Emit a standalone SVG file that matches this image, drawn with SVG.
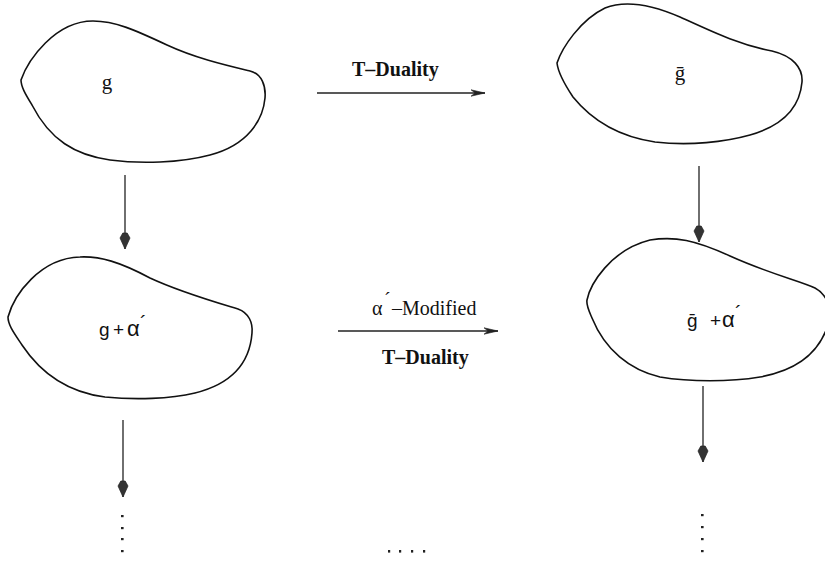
<svg xmlns="http://www.w3.org/2000/svg" width="825" height="561" viewBox="0 0 825 561">
  <style>
    .blob { fill: none; stroke: #111; stroke-width: 1.6; stroke-linejoin: round; }
    .conn { fill: none; stroke: #222; stroke-width: 1.3; }
    .serif { font-family: "Liberation Serif", "DejaVu Serif", serif; fill: #111; }
    .sans { font-family: "Liberation Sans", "DejaVu Sans", sans-serif; fill: #111; }
    .bold { font-weight: bold; }
    .dot { fill: #222; }
  </style>
  <defs>
    <marker id="headH" markerUnits="userSpaceOnUse" markerWidth="20" markerHeight="10" refX="0" refY="0" viewBox="-16 -5 18 10" orient="auto">
      <path d="M0,0 L-14,-3.2 L-10,0 L-14,3.2 Z" fill="#222" stroke="#222" stroke-width="0.6"/>
    </marker>
    <marker id="headV" markerUnits="userSpaceOnUse" markerWidth="20" markerHeight="14" refX="0" refY="0" viewBox="-18 -7 20 14" orient="auto">
      <path d="M0,0 L-11,-5 L-16,-2.2 L-16,2.2 L-11,5 Z" fill="#333" stroke="#222" stroke-width="0.7"/>
    </marker>
  </defs>

  <rect width="825" height="561" fill="#fff"/>

  <!-- metric g -->
  <g id="node-g">
    <path class="blob" d="M21,80 C28,60 55,21 93,21 C115,21 135,30 167,45 C195,58 225,65 250,71 C262,74 266,86 265,98 C263,120 248,145 210,155 C180,163 140,164 110,160 C75,155 50,140 32,105 C26,95 21,87 21,80 Z"/>
    <text class="serif" x="107" y="89" font-size="21" text-anchor="middle">g</text>
  </g>

  <!-- dual metric g-bar -->
  <g id="node-gbar">
    <path class="blob" d="M557,63 C562,48 580,20 605,8 C625,0 650,4 680,17 C715,33 740,45 772,51 C793,56 803,68 802,82 C800,105 785,125 750,135 C725,142 690,146 655,142 C615,136 590,118 573,97 C565,85 558,72 557,63 Z"/>
    <text class="serif" x="680" y="80" font-size="21" text-anchor="middle">ḡ</text>
  </g>

  <!-- corrected metric g + alpha' -->
  <g id="node-g-alpha">
    <path class="blob" d="M8,317 C14,295 40,258 80,257 C100,256 120,262 150,278 C180,292 215,302 238,309 C249,313 253,323 252,333 C250,360 235,383 195,393 C170,399 135,400 105,397 C65,392 40,372 22,345 C14,333 8,325 8,317 Z"/>
    <text class="sans" x="99" y="336" font-size="19">g<tspan x="113">+</tspan><tspan x="127" font-size="22">α</tspan><tspan x="140" y="330" font-size="20">´</tspan></text>
  </g>

  <!-- corrected dual metric g-bar + alpha' -->
  <g id="node-gbar-alpha">
    <path class="blob" d="M587,300 C590,285 610,250 650,240 C675,236 695,240 730,256 C770,274 800,281 815,288 C828,295 832,310 828,325 C820,350 800,370 760,377 C730,382 690,382 660,377 C630,370 605,350 592,318 C589,311 586,305 587,300 Z"/>
    <text class="sans" x="687" y="327" font-size="19">ḡ<tspan x="710">+</tspan><tspan x="722" font-size="22">α</tspan><tspan x="735" y="320" font-size="20">´</tspan></text>
  </g>

  <!-- arrows between metrics -->
  <g id="connectors">
    <line class="conn" x1="317" y1="93" x2="485" y2="93" marker-end="url(#headH)"/>
    <line class="conn" x1="338" y1="331" x2="498" y2="331" marker-end="url(#headH)"/>
    <line class="conn" x1="125" y1="175" x2="125" y2="249" marker-end="url(#headV)"/>
    <line class="conn" x1="699" y1="166" x2="699" y2="242" marker-end="url(#headV)"/>
    <line class="conn" x1="123" y1="420" x2="123" y2="497" marker-end="url(#headV)"/>
    <line class="conn" x1="703" y1="386" x2="703" y2="462" marker-end="url(#headV)"/>
  </g>

  <!-- arrow labels -->
  <g id="labels">
    <text class="serif bold" x="352" y="76" font-size="20">T–Duality</text>
    <text class="serif" x="372" y="315" font-size="20">α<tspan x="384" y="307">´</tspan><tspan x="392" y="315">–Modified</tspan></text>
    <text class="serif bold" x="382" y="364" font-size="20">T–Duality</text>
  </g>

  <!-- continuation dots -->
  <g id="ellipses">
    <rect class="dot" x="121" y="515" width="2.6" height="2.2"/>
    <rect class="dot" x="121" y="527" width="2.6" height="2.2"/>
    <rect class="dot" x="121" y="538" width="2.6" height="2.2"/>
    <rect class="dot" x="121" y="550" width="2.6" height="2.2"/>
    <rect class="dot" x="701" y="514" width="2.6" height="2.2"/>
    <rect class="dot" x="701" y="526" width="2.6" height="2.2"/>
    <rect class="dot" x="701" y="538" width="2.6" height="2.2"/>
    <rect class="dot" x="701" y="550" width="2.6" height="2.2"/>
    <rect class="dot" x="388" y="550" width="2.2" height="2.6"/>
    <rect class="dot" x="399" y="550" width="2.2" height="2.6"/>
    <rect class="dot" x="411" y="550" width="2.2" height="2.6"/>
    <rect class="dot" x="423" y="550" width="2.2" height="2.6"/>
  </g>
</svg>
